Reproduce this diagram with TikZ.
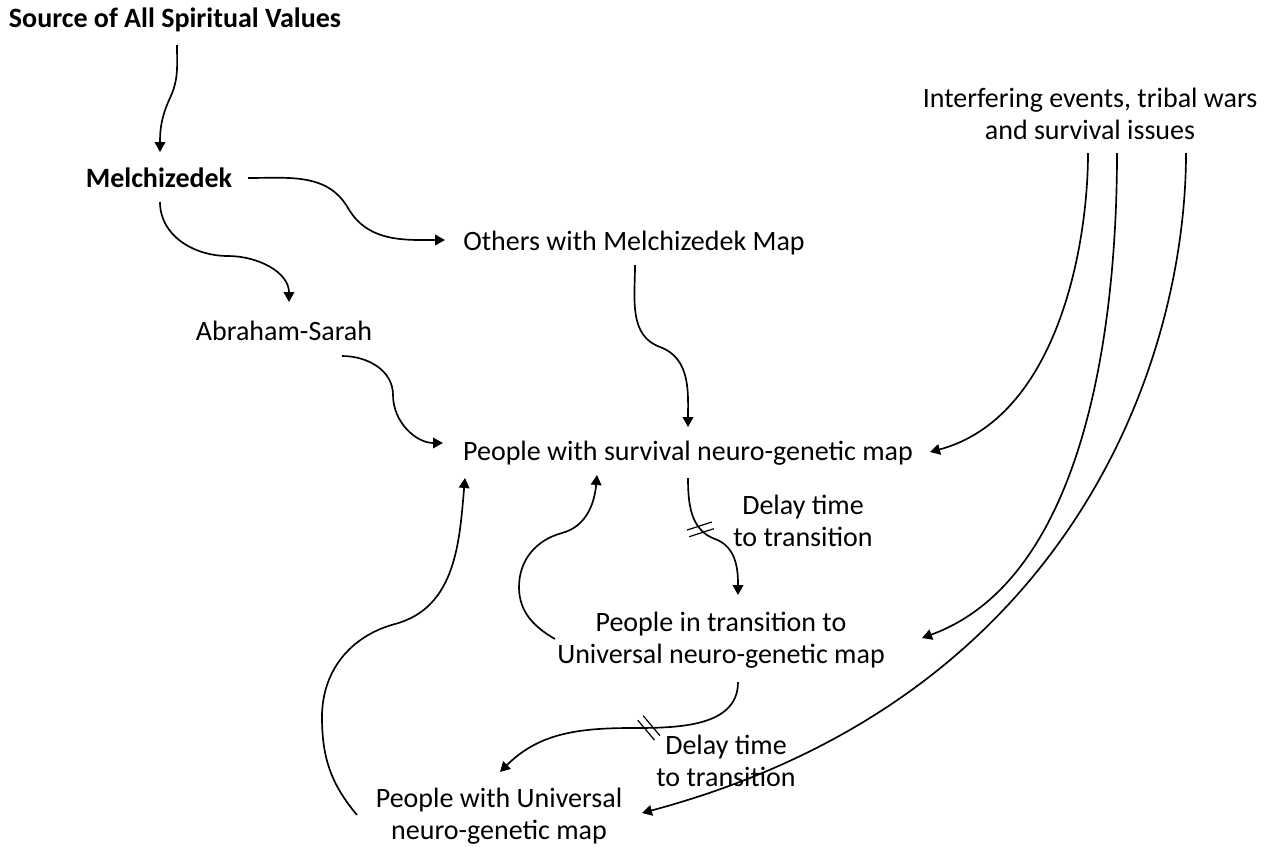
\documentclass[tikz,border=0pt]{standalone}
\usepackage{fontspec}
\setmainfont{Carlito}
\usetikzlibrary{arrows.meta,calc}
\tikzstyle{concept}=[inner sep=0pt, align=center,
  font=\fontsize{21}{24}\selectfont]
\tikzstyle{mainconcept} = [concept, font=\fontsize{21}{24}\selectfont\bfseries]
\tikzstyle{link} = [draw, line width=1.25pt, -{Triangle[length=7.5pt,width=8pt]}]
\tikzstyle{delaymark} = [draw, line width=0.9pt]
\newcommand{\delay}[2]{%
  \begin{scope}[shift={(#1)}, rotate=#2]
    \path [delaymark] (-13,-3.5) -- (13,-3.5) (-13,3.5) -- (13,3.5);
  \end{scope}}

\begin{document}
\begin{tikzpicture}[x=0.75pt,y=0.75pt]
  \useasboundingbox (0,0) rectangle (1269,-846);

  % Draw diagram elements
  \node (src) [mainconcept] at (175,-20) {Source of All Spiritual Values};
  \node (mel) [mainconcept] at (159,-178) {Melchizedek};
  \node (oth) [concept] at (634,-243) {Others with Melchizedek Map};
  \node (abr) [concept] at (284,-331) {Abraham-Sarah};
  \node (surv) [concept] at (688,-453) {People with survival neuro-genetic map};
  \node (trans) [concept] at (721,-640) {People in transition to\\Universal neuro-genetic map};
  \node (univ) [concept] at (499,-816) {People with Universal\\neuro-genetic map};
  \node (intf) [concept] at (1090,-114) {Interfering events, tribal wars\\and survival issues};

  % Delay labels
  \node (dly1) [concept] at (803,-521) {Delay time\\to transition};
  \node (dly2) [concept] at (726,-761) {Delay time\\to transition};

  % Draw arrows between elements
  \path [link] ($(src)+(2,-25)$) to[out=-90,in=65] ($(src)+(-5,-78)$)
    to[out=-115,in=90] ($(mel)+(1,26)$);
  \path [link] ($(mel)+(89,0)$) to[out=0,in=120] ($(mel)+(189,-30)$)
    to[out=-60,in=180] ($(oth)+(-189,3)$);
  \path [link] ($(mel)+(1,-24)$) to[out=-90,in=180] ($(mel)+(69,-78)$)
    to[out=0,in=90] ($(abr)+(5,29)$);
  \path [link] ($(oth)+(1,-22)$) to[out=-90,in=160] ($(oth)+(26,-104)$)
    to[out=-20,in=90] ($(surv)+(0,26)$);
  \path [link] ($(abr)+(58,-25)$) to[out=0,in=90] ($(abr)+(109,-64)$)
    to[out=-90,in=180] ($(surv)+(-245,10)$);

  % Interfering events
  \path [link] ($(intf)+(-2,-39)$) to[out=-90,in=15,out looseness=0.7] ($(surv)+(242,1)$);
  \path [link] ($(intf)+(27,-39)$) to[out=-90,in=20,out looseness=0.7,in looseness=0.9]
    ($(trans)+(201,2)$);
  \path [link] ($(intf)+(96,-39)$) to[out=-90,in=15,out looseness=0.6,in looseness=1.35]
    ($(univ)+(143,3)$);

  % Transitions with delay
  \path [link] ($(surv)+(0,-25)$) to[out=-90,in=160] coordinate[pos=0.75] (d1)
    ($(surv)+(27,-86)$) to[out=-20,in=90] ($(trans)+(17,45)$);
  \path [link] ($(trans)+(17,-42)$) to[out=-90,in=0] coordinate[pos=0.88] (d2)
    ($(trans)+(-89,-88)$) to[out=180,in=45] ($(univ)+(1,44)$);
  \delay{d1}{18}
  \delay{d2}{-50}

  % Feedback loops
  \path [link] ($(trans)+(-166,1)$) to[out=150,in=-90] ($(trans)+(-202,53)$)
    to[out=90,in=195] ($(trans)+(-159,107)$) to[out=15,in=-95] ($(surv)+(-91,-22)$);
  \path [link] ($(univ)+(-142,1)$) to[out=130,in=-90] ($(univ)+(-177,99)$)
    to[out=90,in=195] ($(univ)+(-104,192)$) to[out=15,in=-95] ($(surv)+(-223,-25)$);

\end{tikzpicture}
\end{document}
